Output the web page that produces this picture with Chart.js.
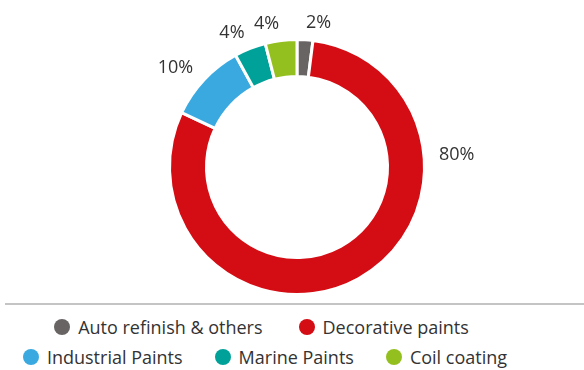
<!DOCTYPE html>
<html>
<head>
<meta charset="utf-8">
<script src="https://cdn.jsdelivr.net/npm/chart.js@4"></script>
<style>
  html, body { margin: 0; padding: 0; background: #fff; }
  body { width: 584px; height: 370px; position: relative; overflow: hidden; font-family: "Open Sans", sans-serif; color: #333; }
  #chart-wrap { position: absolute; left: 0; top: 0; width: 584px; height: 300px; }
  #rule { position: absolute; left: 5px; right: 0; top: 303px; height: 0; border-top: 2px solid #c4c4c4; }
  #legend { position: absolute; left: 0; top: 312px; width: 530px; font-size: 18px; }
  .row { display: flex; justify-content: center; height: 30px; align-items: center; }
  .row:first-child { margin-left: -7px; }
  .row:first-child .item { margin: 0 18px; }
  .item { display: flex; align-items: center; margin: 0 16px; white-space: nowrap; }
  .dot { width: 16px; height: 16px; border-radius: 50%; margin-right: 8px; }
</style>
</head>
<body>
<div id="chart-wrap"><canvas id="segChart" width="584" height="300"></canvas></div>
<div id="rule"></div>
<div id="legend"></div>
<script>
// Segmentos y su peso (%)
const segments = ['Auto refinish & others', 'Decorative paints', 'Industrial Paints', 'Marine Paints', 'Coil coating'];
const shares = [2, 80, 10, 4, 4];
const segmentColors = ['#686463', '#d40c13', '#3aa9e0', '#00a199', '#94c01f'];
// filas de la leyenda (índices de segmento)
const legendRows = [[0, 1], [2, 3, 4]];

// Etiquetas de % alrededor del anillo
const pctLabels = {
  id: 'pctLabels',
  afterDatasetsDraw(chart) {
    const ctx = chart.ctx;
    const arcs = chart.getDatasetMeta(0).data;
    ctx.save();
    ctx.font = '18px "Open Sans", sans-serif';
    ctx.fillStyle = '#333';
    ctx.textBaseline = 'middle';
    arcs.forEach((arc, i) => {
      const { x, y, startAngle, endAngle, outerRadius } = arc.getProps(['x', 'y', 'startAngle', 'endAngle', 'outerRadius'], true);
      // la etiqueta del segmento grande se queda en el lado derecho
      const a = startAngle + Math.min((endAngle - startAngle) / 2, 78 * Math.PI / 180);
      const r = outerRadius + 10;
      const cos = Math.cos(a), sin = Math.sin(a);
      const ax = x + r * cos + 5 * cos;
      const ay = y + r * sin + 7 * sin;
      ctx.textAlign = cos >= 0 ? 'left' : 'right';
      ctx.fillText(shares[i] + '%', ax, ay);
    });
    ctx.restore();
  }
};

new Chart(document.getElementById('segChart'), {
  type: 'doughnut',
  data: {
    labels: segments,
    datasets: [{
      data: shares,
      backgroundColor: segmentColors,
      borderColor: '#fff',
      borderWidth: 3,
      hoverOffset: 0
    }]
  },
  options: {
    responsive: false,
    animation: false,
    cutout: '71%',
    layout: { padding: { top: 38, bottom: 4, left: 30, right: 20 } },
    plugins: { legend: { display: false }, tooltip: { enabled: false } }
  },
  plugins: [pctLabels]
});

// Leyenda
const legend = document.getElementById('legend');
legendRows.forEach(row => {
  const rowEl = document.createElement('div');
  rowEl.className = 'row';
  row.forEach(i => {
    const item = document.createElement('div');
    item.className = 'item';
    item.innerHTML = `<span class="dot" style="background:${segmentColors[i]}"></span><span>${segments[i].replace('&', '&amp;')}</span>`;
    rowEl.appendChild(item);
  });
  legend.appendChild(rowEl);
});
</script>
</body>
</html>
